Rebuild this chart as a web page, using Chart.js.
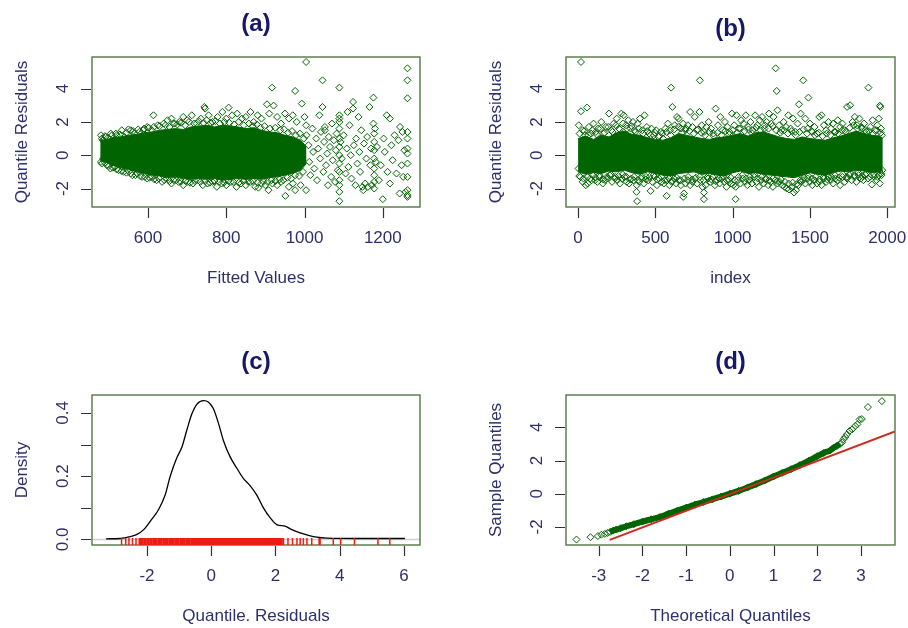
<!DOCTYPE html>
<html>
<head>
<meta charset="utf-8">
<script src="https://cdn.jsdelivr.net/npm/chart.js@4.4.1/dist/chart.umd.min.js"></script>
<style>
  body { margin: 0; background: #fff; width: 908px; height: 628px; position: relative; overflow: hidden; }
  canvas { position: absolute; }
</style>
</head>
<body>
<canvas id="panelA" width="454" height="314" style="left:0;top:0"></canvas>
<canvas id="panelB" width="454" height="314" style="left:454px;top:0"></canvas>
<canvas id="panelC" width="454" height="314" style="left:0;top:314px"></canvas>
<canvas id="panelD" width="454" height="314" style="left:454px;top:314px"></canvas>
<script>
// ---- (a) residuals vs fitted values ----
// dense core of the cloud: upper / lower edge along the fitted values
const coreXA  = [478, 490, 510, 530, 550, 570, 590, 610, 630, 650, 670, 690, 710, 730, 750, 770, 790, 810, 830, 850, 870, 890, 910, 930, 950, 970, 990, 1005];
const coreHiA = [0.95, 0.9, 1.05, 1.1, 1.2, 1.25, 1.35, 1.4, 1.5, 1.55, 1.6, 1.55, 1.7, 1.75, 1.8, 1.7, 1.8, 1.75, 1.7, 1.6, 1.65, 1.5, 1.4, 1.35, 1.2, 1.1, 0.9, 0.5];
const coreLoA = [-0.35, -0.4, -0.6, -0.75, -0.85, -1.0, -1.1, -1.2, -1.25, -1.35, -1.3, -1.4, -1.45, -1.4, -1.45, -1.4, -1.5, -1.45, -1.4, -1.45, -1.4, -1.45, -1.35, -1.3, -1.2, -1.1, -0.9, -0.5];
// [fitted, quantile residual]
const pointsA = [
  [480,1.2],[485,0.9],[492,1.1],[505,1.3],[512,0.9],[520,1.2],[533,1.5],[540,1.1],[550,1.55],[556,1.5],
  [565,1.3],[578,1.4],[590,1.6],[598,1.7],[610,1.5],[614,2.4],[625,1.8],[640,1.9],[650,2.1],[660,2.2],
  [668,1.9],[680,2.0],[690,2.3],[700,2.1],[712,2.4],[724,1.9],[735,2.2],[744,2.9],[746,2.8],[755,2.4],
  [765,2.0],[778,2.3],[790,2.6],[800,2.2],[806,2.86],[815,2.4],[828,2.5],[840,2.2],[850,2.3],[862,2.6],
  [870,2.0],[880,2.4],[890,2.2],[904,3.06],[910,2.5],[921,2.98],[930,2.3],[940,1.9],[950,2.5],[960,2.2],
  [970,2.4],[980,2.0],[993,3.1],[1000,2.3],[1004,1.8],[917,4.06],[976,3.86],[1004,5.6],
  [482,1.0],[490,1.15],[498,1.05],[508,1.2],[518,1.3],[528,1.25],[545,1.35],[562,1.45],[575,1.55],[588,1.5],
  [602,1.65],[615,1.7],[630,1.75],[645,1.8],[655,1.7],[665,1.9],[675,1.85],[685,1.95],[695,1.8],[705,2.0],
  [718,1.9],[730,2.05],[742,1.95],[750,2.1],[760,1.95],[772,2.05],[784,1.9],[795,2.0],[808,1.95],[820,1.85],
  [832,2.0],[845,1.8],[858,1.9],[868,1.75],[878,1.85],[888,1.65],[898,1.75],[912,1.6],[925,1.65],[938,1.5],
  [948,1.55],[958,1.35],[968,1.45],[978,1.2],[988,1.3],[998,1.0],
  [480,-0.4],[486,-0.2],[495,-0.6],[504,-0.8],[515,-0.7],[525,-0.9],[538,-1.0],[548,-0.9],[560,-1.2],[572,-1.1],
  [585,-1.3],[598,-1.4],[610,-1.3],[622,-1.5],[636,-1.6],[648,-1.4],[660,-1.7],[672,-1.5],[678,-1.6],[690,-1.8],
  [702,-1.6],[715,-1.7],[728,-1.5],[740,-1.8],[752,-1.7],[765,-1.6],[776,-1.9],[788,-1.7],[800,-1.8],[812,-1.6],
  [826,-1.9],[838,-1.7],[850,-1.8],[862,-1.6],[874,-1.9],[882,-1.95],[890,-1.7],[900,-1.8],[908,-2.1],[918,-1.7],
  [930,-1.8],[940,-1.6],[951,-2.44],[960,-1.9],[970,-1.7],[976,-2.1],[990,-1.8],[1004,-2.1],
  [482,-0.5],[490,-0.45],[500,-0.65],[510,-0.75],[520,-0.85],[532,-0.95],[545,-1.05],[556,-1.1],[568,-1.2],[580,-1.25],
  [592,-1.3],[604,-1.35],[616,-1.45],[628,-1.4],[642,-1.5],[655,-1.55],[666,-1.5],[684,-1.6],[696,-1.55],[708,-1.65],
  [720,-1.55],[734,-1.6],[746,-1.55],[758,-1.65],[770,-1.55],[782,-1.6],[794,-1.65],[806,-1.55],[818,-1.6],[832,-1.65],
  [844,-1.55],[856,-1.6],[868,-1.55],[880,-1.65],[894,-1.55],[906,-1.6],[915,-1.5],[926,-1.55],[936,-1.45],[946,-1.5],
  [956,-1.35],[966,-1.4],[976,-1.2],[986,-1.25],[996,-1.0],
  [1005,1.2],[1010,0.6],[1012,-0.4],[1015,-1.2],[1020,1.6],[1022,0.2],[1025,-0.8],[1030,1.0],[1032,-1.5],[1035,0.4],
  [1038,2.4],[1040,-0.2],[1042,1.4],[1046,2.9],[1046,4.5],[1048,-1.0],[1050,0.8],[1052,1.7],[1052,1.5],[1055,-0.6],
  [1058,0.1],[1060,-1.8],[1062,1.1],[1065,0.5],[1068,-1.3],[1070,1.9],[1072,-0.3],[1075,0.9],[1078,-1.6],[1080,0.3],
  [1082,1.3],[1085,-0.9],[1089,4.06],[1089,-2.76],[1089,-2.2],[1089,2.4],[1089,2.2],[1089,2.0],[1089,1.6],[1089,1.0],
  [1089,0.5],[1089,0.0],[1089,-0.5],[1089,-1.0],[1089,-1.5],[1089,-1.8],[1092,0.8],[1095,-0.2],[1100,1.2],[1105,-1.1],
  [1108,0.4],[1110,2.6],[1112,-0.7],[1115,1.8],[1118,0.0],[1120,-1.4],[1124,3.2],[1124,2.8],[1126,0.6],[1130,-1.8],
  [1132,1.0],[1135,-0.5],[1138,2.3],[1140,0.2],[1142,-1.0],[1145,1.5],[1148,-1.9],[1150,-2.1],[1152,0.7],[1155,-1.7],
  [1158,-0.2],[1160,1.1],[1162,-1.9],[1166,2.9],[1168,-0.6],[1170,0.4],[1172,-1.8],[1176,3.46],[1176,1.9],[1178,1.3],
  [1178,0.8],[1178,0.3],[1178,-0.2],[1178,-0.8],[1178,-1.2],[1178,-1.6],[1178,-2.0],[1180,1.6],[1182,-0.4],[1185,0.5],
  [1190,-1.5],[1195,-0.6],[1200,-2.64],[1202,1.0],[1205,0.2],[1210,2.4],[1212,-1.0],[1218,2.2],[1218,-1.7],[1222,0.6],
  [1225,-0.3],[1230,1.2],[1235,-1.1],[1240,0.9],[1243,-2.3],[1244,1.7],[1248,-0.6],[1250,1.4],[1252,-1.3],[1255,0.3],
  [1258,-2.2],[1263,5.22],[1263,4.5],[1263,3.42],[1263,1.4],[1263,1.0],[1263,0.4],[1263,0.1],[1263,-0.5],[1263,-1.3],
  [1263,-2.1],[1263,-2.5],[1263,-2.4]
];
const xTicksA = [600, 800, 1000, 1200];

// ---- (b) residuals vs index ----
const coreXB  = [0, 50, 100, 150, 200, 250, 300, 350, 400, 450, 500, 550, 600, 650, 700, 750, 800, 850, 900, 950, 1000,
                 1050, 1100, 1150, 1200, 1250, 1300, 1350, 1400, 1450, 1500, 1550, 1600, 1650, 1700, 1750, 1800, 1850, 1900, 1950, 1971];
const coreHiB = [1.0, 1.15, 0.95, 1.2, 1.1, 1.35, 1.45, 1.25, 1.2, 1.05, 0.95, 0.9, 1.05, 1.3, 1.2, 1.1, 1.0, 0.95, 1.05, 1.1, 1.2,
                 1.3, 1.15, 1.35, 1.4, 1.25, 1.1, 1.0, 0.95, 1.1, 1.0, 0.95, 0.9, 1.05, 1.15, 1.3, 1.45, 1.3, 1.2, 1.15, 1.0];
const coreLoB = [-1.0, -1.15, -1.05, -1.1, -0.95, -1.0, -0.9, -1.05, -1.15, -1.0, -1.1, -1.2, -1.25, -1.1, -1.05, -1.0, -1.15, -1.1, -1.2, -1.25, -1.05,
                 -0.95, -1.1, -1.05, -1.15, -1.2, -1.25, -1.3, -1.35, -1.2, -1.05, -1.15, -1.2, -1.05, -0.95, -1.0, -0.9, -0.95, -1.05, -1.0, -0.9];
// [index, quantile residual]
const pointsB = [
  [5,1.8],[19,5.6],[19,2.64],[30,1.5],[45,1.2],[58,2.86],[70,1.7],[85,1.3],[100,1.9],[115,1.4],
  [130,1.6],[150,2.0],[165,1.3],[180,1.7],[200,2.5],[215,1.5],[230,1.9],[250,2.2],[265,1.6],[280,2.5],
  [295,2.4],[310,1.8],[325,2.1],[340,1.6],[355,2.0],[370,1.4],[385,1.9],[400,2.2],[415,1.5],[430,2.4],
  [445,1.7],[460,1.3],[475,1.6],[490,1.2],[505,1.5],[520,1.1],[535,1.4],[550,1.0],[565,1.6],[580,1.9],
  [595,1.5],[602,4.06],[610,2.9],[625,1.8],[640,2.3],[650,2.2],[665,1.6],[680,1.9],[695,1.5],[710,1.8],
  [725,2.6],[740,1.7],[755,2.3],[770,1.5],[788,4.5],[785,2.6],[800,1.8],[815,1.4],[830,1.7],[845,2.0],
  [860,1.6],[875,1.3],[890,2.8],[905,1.8],[920,2.3],[935,1.5],[950,2.0],[965,1.7],[980,1.4],[995,2.5],
  [1010,1.8],[1025,2.4],[1040,1.6],[1055,2.1],[1070,1.9],[1085,2.4],[1100,1.7],[1115,2.0],[1130,1.5],[1145,2.4],
  [1160,1.8],[1175,2.1],[1190,2.3],[1205,1.6],[1220,2.0],[1235,2.5],[1250,1.9],[1265,2.3],[1278,5.22],[1285,3.86],
  [1290,2.7],[1300,1.8],[1315,1.5],[1330,2.0],[1345,1.7],[1360,2.4],[1375,1.6],[1390,2.2],[1405,1.4],[1420,1.9],
  [1429,3.06],[1440,2.5],[1457,4.5],[1470,2.2],[1490,3.46],[1485,1.6],[1500,1.9],[1515,1.4],[1530,1.7],[1545,1.3],
  [1560,2.3],[1575,2.4],[1590,1.8],[1605,1.5],[1620,2.0],[1635,1.6],[1650,1.9],[1665,1.4],[1680,2.1],[1695,1.7],
  [1710,1.9],[1725,1.5],[1740,2.9],[1760,3.0],[1775,2.0],[1790,2.3],[1805,1.8],[1820,2.2],[1835,1.6],[1850,1.9],
  [1865,1.4],[1878,4.06],[1890,1.7],[1905,2.1],[1920,1.5],[1935,1.8],[1945,2.2],[1952,2.98],[1955,2.9],[1960,1.6],
  [1965,1.2],
  [10,1.3],[40,1.45],[68,1.2],[92,1.5],[120,1.25],[145,1.6],[172,1.35],[195,1.7],[222,1.4],[245,1.8],
  [270,1.55],[290,1.9],[318,1.6],[345,1.75],[365,1.5],[392,1.6],[420,1.3],[448,1.45],[470,1.2],[498,1.35],
  [525,1.15],[545,1.3],[572,1.4],[600,1.2],[622,1.55],[648,1.7],[672,1.35],[698,1.6],[720,1.45],[748,1.3],
  [775,1.55],[798,1.35],[822,1.2],[850,1.4],[878,1.15],[902,1.35],[928,1.2],[952,1.45],[978,1.25],[1002,1.5],
  [1028,1.35],[1050,1.6],[1078,1.45],[1102,1.55],[1128,1.3],[1152,1.65],[1180,1.5],[1208,1.8],[1232,1.6],[1258,1.75],
  [1282,1.5],[1308,1.35],[1332,1.5],[1358,1.3],[1382,1.45],[1408,1.2],[1432,1.4],[1458,1.55],[1482,1.3],[1508,1.45],
  [1532,1.2],[1558,1.35],[1582,1.15],[1608,1.3],[1632,1.2],[1658,1.4],[1682,1.3],[1708,1.5],[1732,1.4],[1758,1.65],
  [1782,1.8],[1808,1.6],[1832,1.7],[1858,1.5],[1882,1.45],[1908,1.3],[1932,1.5],[1958,1.35],
  [3,-0.8],[15,-1.3],[30,-1.6],[50,-1.8],[62,-1.7],[80,-1.4],[95,-1.2],[110,-1.5],[125,-1.6],[140,-1.3],
  [160,-1.7],[175,-1.5],[190,-1.4],[205,-1.2],[220,-1.6],[240,-1.3],[255,-1.5],[270,-1.7],[285,-1.4],[300,-1.3],
  [315,-1.6],[330,-1.7],[345,-1.4],[360,-1.5],[378,-2.2],[382,-2.76],[380,-1.8],[395,-1.6],[410,-1.4],[425,-1.7],
  [440,-1.3],[455,-1.5],[469,-2.14],[480,-1.6],[495,-1.3],[510,-1.8],[525,-1.4],[540,-1.6],[555,-1.7],[573,-2.44],
  [575,-1.5],[590,-1.8],[605,-1.6],[620,-1.4],[635,-1.7],[650,-1.5],[665,-1.8],[680,-2.5],[685,-2.3],[695,-1.7],
  [710,-1.5],[725,-1.8],[740,-1.6],[755,-1.4],[770,-1.7],[790,-1.5],[805,-1.9],[814,-2.64],[814,-2.24],[825,-1.8],
  [840,-1.4],[855,-1.6],[870,-1.3],[885,-1.8],[900,-1.5],[915,-1.7],[930,-1.4],[945,-1.6],[960,-1.9],[975,-1.5],
  [990,-1.7],[1005,-1.8],[1019,-2.64],[1020,-1.9],[1035,-1.5],[1050,-1.7],[1065,-1.4],[1080,-1.6],[1095,-1.8],[1110,-1.5],
  [1125,-1.7],[1140,-1.3],[1155,-1.6],[1170,-1.9],[1185,-1.5],[1200,-1.7],[1215,-1.4],[1230,-1.8],[1245,-1.6],[1260,-1.9],
  [1275,-1.5],[1290,-1.7],[1305,-1.6],[1320,-1.8],[1335,-1.9],[1350,-2.0],[1365,-2.06],[1380,-1.9],[1397,-2.24],[1410,-2.1],
  [1425,-1.8],[1440,-1.6],[1455,-1.5],[1470,-1.7],[1485,-1.4],[1500,-1.6],[1515,-1.8],[1530,-1.5],[1545,-1.7],[1560,-1.6],
  [1575,-1.8],[1590,-1.4],[1605,-1.6],[1620,-1.3],[1635,-1.5],[1650,-1.7],[1665,-1.4],[1680,-1.5],[1695,-1.8],[1710,-1.3],
  [1725,-1.6],[1740,-1.4],[1755,-1.2],[1770,-1.5],[1785,-1.3],[1800,-1.6],[1815,-1.2],[1830,-1.4],[1845,-1.5],[1860,-1.2],
  [1875,-1.4],[1900,-1.76],[1915,-1.3],[1930,-1.5],[1945,-1.2],[1952,-1.7],[1960,-1.1],[1968,-0.9],
  [8,-1.25],[35,-1.4],[60,-1.3],[88,-1.5],[112,-1.35],[138,-1.2],[162,-1.45],[188,-1.3],[212,-1.15],[238,-1.4],
  [262,-1.25],[288,-1.15],[312,-1.3],[338,-1.45],[362,-1.3],[388,-1.5],[412,-1.3],[438,-1.45],[462,-1.3],[488,-1.2],
  [512,-1.45],[538,-1.3],[562,-1.5],[588,-1.4],[612,-1.55],[638,-1.35],[662,-1.5],[688,-1.4],[712,-1.3],[738,-1.45],
  [762,-1.35],[788,-1.3],[812,-1.5],[838,-1.3],[862,-1.45],[888,-1.55],[912,-1.4],[938,-1.3],[962,-1.5],[988,-1.35],
  [1012,-1.5],[1038,-1.3],[1062,-1.2],[1088,-1.4],[1112,-1.3],[1138,-1.15],[1162,-1.4],[1188,-1.3],[1212,-1.45],[1238,-1.5],
  [1262,-1.4],[1288,-1.55],[1312,-1.45],[1338,-1.6],[1362,-1.7],[1388,-1.65],[1412,-1.75],[1438,-1.5],[1462,-1.35],[1488,-1.25],
  [1512,-1.4],[1538,-1.3],[1562,-1.45],[1588,-1.3],[1612,-1.45],[1638,-1.3],[1662,-1.2],[1688,-1.35],[1712,-1.15],[1738,-1.3],
  [1762,-1.1],[1788,-1.2],[1812,-1.05],[1838,-1.25],[1862,-1.1],[1888,-1.3],[1912,-1.15],[1938,-1.3],[1962,-1.2]
];
const xTicksB = [0, 500, 1000, 1500, 2000];
const yTicksRes = [-2, 0, 2, 4];

// ---- (c) kernel density of the residuals ----
const densX = [-3.27, -2.83, -2.52, -2.31, -2.1, -1.9, -1.64, -1.43, -1.28, -1.07, -0.91, -0.76, -0.6, -0.44, -0.24, -0.08,
               0.07, 0.23, 0.38, 0.59, 0.8, 1.0, 1.21, 1.42, 1.63, 1.84, 2.04, 2.3, 2.51, 2.77, 3.03, 3.29, 3.6, 4.5, 6.03];
const densY = [0.002, 0.003, 0.009, 0.016, 0.031, 0.057, 0.094, 0.141, 0.198, 0.258, 0.292, 0.345, 0.397, 0.428, 0.439, 0.434,
               0.413, 0.366, 0.313, 0.261, 0.225, 0.193, 0.17, 0.14, 0.099, 0.068, 0.047, 0.042, 0.031, 0.021, 0.013, 0.007, 0.004, 0.003, 0.003];
const rugValues = [
  -2.79, -2.66, -2.56, -2.45, -2.34,
  -2.24, -2.2, -2.17, -2.13, -2.08, -2.05, -2.0, -1.97, -1.93, -1.88, -1.86, -1.81, -1.77, -1.74, -1.7, -1.65, -1.62,
  -1.58, -1.55, -1.5, -1.47, -1.43, -1.39, -1.36, -1.31, -1.28, -1.24, -1.2, -1.17, -1.12, -1.09, -1.05, -1.02, -0.97,
  -0.94, -0.9, -0.86, -0.83, -0.78, -0.75, -0.71, -0.68, -0.63, -0.6, -0.56, -0.52, -0.49, -0.45, -0.41, -0.38, -0.34,
  -0.3, -0.27, -0.23, -0.19, -0.16, -0.12, -0.08, -0.05, -0.01, 0.02, 0.06, 0.1, 0.13, 0.17, 0.21, 0.24, 0.28, 0.31,
  0.35, 0.39, 0.42, 0.46, 0.5, 0.53, 0.57, 0.61, 0.64, 0.68, 0.71, 0.75, 0.79, 0.82, 0.86, 0.9, 0.93, 0.97, 1.01,
  1.04, 1.08, 1.12, 1.15, 1.19, 1.22, 1.26, 1.3, 1.33, 1.37, 1.41, 1.44, 1.48, 1.52, 1.55, 1.59, 1.62, 1.66, 1.7,
  1.73, 1.77, 1.81, 1.84, 1.88, 1.91, 1.95, 1.99, 2.02, 2.06, 2.1, 2.13, 2.17, 2.2,
  2.25, 2.39, 2.53, 2.67, 2.77, 2.87, 2.98, 3.13, 3.36, 3.39, 3.8, 4.03, 4.46, 5.19, 5.56
];
const xTicksC = [-2, 0, 2, 4, 6];
const yTicksC = [0, 0.1, 0.2, 0.3, 0.4];
const yLabelsC = ['0.0', '', '0.2', '', '0.4'];

// ---- (d) normal Q-Q ----
// [theoretical quantile, sample quantile]
const qqPoints = [
  [-3.51,-2.76],[-3.19,-2.62],[-3.02,-2.55],[-2.94,-2.47],[-2.86,-2.42],[-2.8,-2.36],[-2.74,-2.3],[-2.67,-2.22],
  [-2.6,-2.16],[-2.5,-2.08],[-2.37,-1.96],[-2.2,-1.84],[-2.0,-1.68],[-1.8,-1.54],[-1.6,-1.4],[-1.4,-1.2],
  [-1.2,-1.02],[-1.0,-0.84],[-0.8,-0.66],[-0.6,-0.5],[-0.4,-0.34],[-0.2,-0.17],[0,0.0],[0.2,0.17],
  [0.4,0.37],[0.6,0.58],[0.8,0.8],[1.0,1.04],[1.2,1.26],[1.4,1.48],[1.6,1.72],[1.8,1.98],
  [2.0,2.26],[2.15,2.46],[2.29,2.6],[2.38,2.78],[2.45,2.88],[2.52,3.0],[2.57,3.1],[2.6,3.28],
  [2.64,3.42],[2.68,3.58],[2.74,3.78],[2.8,3.88],[2.87,4.08],[2.92,4.18],[2.97,4.48],[3.02,4.5],
  [3.16,5.22],[3.48,5.58]
];
const qqLineX = [-2.75, 3.78];
const qqLineY = [-2.78, 3.75];
const xTicksD = [-3, -2, -1, 0, 1, 2, 3];

const GREEN = '#006400';
const FONT = '"Liberation Sans", Arial, Helvetica, sans-serif';

// R-style frame: outward ticks, rotated y labels, box and titles
const rFrame = {
  id: 'rFrame',
  afterDraw(chart, args, o) {
    const { ctx, chartArea: a, scales: { x, y } } = chart;
    ctx.save();
    ctx.strokeStyle = '#333';
    ctx.lineWidth = 1.2;
    ctx.beginPath();
    o.xTicks.forEach(v => {
      const px = Math.round(x.getPixelForValue(v)) + 0.5;
      ctx.moveTo(px, a.bottom + 1);
      ctx.lineTo(px, a.bottom + 11);
    });
    o.yTicks.forEach(v => {
      const py = Math.round(y.getPixelForValue(v)) + 0.5;
      ctx.moveTo(a.left - 1, py);
      ctx.lineTo(a.left - 11, py);
    });
    ctx.stroke();

    ctx.fillStyle = '#2f2f6b';
    ctx.font = '17px ' + FONT;
    ctx.textAlign = 'center';
    ctx.textBaseline = 'middle';
    o.xTicks.forEach((v, i) => {
      const lab = o.xLabels ? o.xLabels[i] : String(v);
      ctx.fillText(lab, x.getPixelForValue(v), a.bottom + 31);
    });
    o.yTicks.forEach((v, i) => {
      const lab = o.yLabels ? o.yLabels[i] : String(v);
      if (!lab) return;
      ctx.save();
      ctx.translate(a.left - 29, y.getPixelForValue(v));
      ctx.rotate(-Math.PI / 2);
      ctx.fillText(lab, 0, 0);
      ctx.restore();
    });
    ctx.fillText(o.xTitle, (a.left + a.right) / 2, a.bottom + 71);
    ctx.save();
    ctx.translate(a.left - 70, (a.top + a.bottom) / 2);
    ctx.rotate(-Math.PI / 2);
    ctx.fillText(o.yTitle, 0, 0);
    ctx.restore();

    ctx.fillStyle = '#17176a';
    ctx.font = 'bold 24px ' + FONT;
    ctx.fillText(o.title, (a.left + a.right) / 2, a.top - o.titleGap);

    ctx.strokeStyle = '#5f7f50';
    ctx.lineWidth = 1.5;
    ctx.strokeRect(a.left, a.top, a.width, a.height);
    ctx.restore();
  }
};

// light zero line under the density curve
const zeroLine = {
  id: 'zeroLine',
  beforeDatasetsDraw(chart) {
    const { ctx, chartArea: a, scales: { y } } = chart;
    const py = Math.round(y.getPixelForValue(0)) + 0.5;
    ctx.save();
    ctx.strokeStyle = '#cfcfcf';
    ctx.lineWidth = 1.5;
    ctx.beginPath();
    ctx.moveTo(a.left, py);
    ctx.lineTo(a.right, py);
    ctx.stroke();
    ctx.restore();
  }
};

// rug of the residuals along the bottom edge
const rug = {
  id: 'rug',
  afterDraw(chart, args, o) {
    const { ctx, chartArea: a, scales: { x } } = chart;
    ctx.save();
    ctx.strokeStyle = '#ee1c0e';
    ctx.lineWidth = 1.5;
    ctx.beginPath();
    o.values.forEach(v => {
      const px = x.getPixelForValue(v);
      ctx.moveTo(px, a.bottom);
      ctx.lineTo(px, a.bottom - 7);
    });
    ctx.stroke();
    ctx.restore();
  }
};

function options(pad, xr, yr, frame, extra) {
  return {
    responsive: false,
    animation: false,
    devicePixelRatio: 1,
    layout: { padding: pad },
    plugins: Object.assign({ legend: { display: false }, tooltip: { enabled: false }, rFrame: frame }, extra || {}),
    scales: {
      x: { type: 'linear', display: false, min: xr[0], max: xr[1] },
      y: { type: 'linear', display: false, min: yr[0], max: yr[1] }
    }
  };
}

const toXY = pairs => pairs.map(p => ({ x: p[0], y: p[1] }));
const zip = (xs, ys) => xs.map((v, i) => ({ x: v, y: ys[i] }));

function coreBand(xs, hi, lo) {
  return [
    { type: 'line', data: zip(xs, hi), borderColor: GREEN, borderWidth: 1, pointRadius: 0, tension: 0, fill: '+1', backgroundColor: GREEN },
    { type: 'line', data: zip(xs, lo), borderColor: GREEN, borderWidth: 1, pointRadius: 0, tension: 0, fill: false }
  ];
}

function diamonds(pairs) {
  return {
    type: 'scatter', data: toXY(pairs), pointStyle: 'rectRot', pointRadius: 3.5,
    borderColor: GREEN, borderWidth: 1, backgroundColor: 'rgba(0,0,0,0)', clip: false
  };
}

new Chart(document.getElementById('panelA'), {
  type: 'scatter',
  data: { datasets: [diamonds(pointsA)].concat(coreBand(coreXA, coreHiA, coreLoA)) },
  options: options({ left: 92, top: 57, right: 34, bottom: 107 }, [457, 1295], [-3.11, 5.9],
    { title: '(a)', titleGap: 33, xTitle: 'Fitted Values', yTitle: 'Quantile Residuals', xTicks: xTicksA, yTicks: yTicksRes }),
  plugins: [rFrame]
});

new Chart(document.getElementById('panelB'), {
  type: 'scatter',
  data: { datasets: [diamonds(pointsB)].concat(coreBand(coreXB, coreHiB, coreLoB)) },
  options: options({ left: 112, top: 57, right: 13, bottom: 107 }, [-78, 2050], [-3.11, 5.9],
    { title: '(b)', titleGap: 28, xTitle: 'index', yTitle: 'Quantile Residuals', xTicks: xTicksB, yTicks: yTicksRes }),
  plugins: [rFrame]
});

new Chart(document.getElementById('panelC'), {
  type: 'scatter',
  data: {
    datasets: [{
      type: 'line', data: zip(densX, densY), borderColor: '#000', borderWidth: 1.3,
      pointRadius: 0, cubicInterpolationMode: 'monotone', fill: false
    }]
  },
  options: options({ left: 92, top: 81, right: 34, bottom: 83 }, [-3.71, 6.5], [-0.0176, 0.4566],
    { title: '(c)', titleGap: 33, xTitle: 'Quantile. Residuals', yTitle: 'Density',
      xTicks: xTicksC, yTicks: yTicksC, yLabels: yLabelsC },
    { rug: { values: rugValues } }),
  plugins: [zeroLine, rFrame, rug]
});

const qqBody = qqPoints.filter(p => p[0] > -2.8 && p[0] < 2.55);
new Chart(document.getElementById('panelD'), {
  type: 'scatter',
  data: {
    datasets: [
      { type: 'line', data: zip(qqLineX, qqLineY), borderColor: '#d0281c', borderWidth: 2, pointRadius: 0, fill: false },
      { type: 'line', data: toXY(qqBody), borderColor: GREEN, borderWidth: 6, pointRadius: 0, tension: 0.3, fill: false },
      diamonds(qqPoints)
    ]
  },
  options: options({ left: 112, top: 81, right: 13, bottom: 83 }, [-3.75, 3.78], [-3.09, 5.95],
    { title: '(d)', titleGap: 33, xTitle: 'Theoretical Quantiles', yTitle: 'Sample Quantiles', xTicks: xTicksD, yTicks: yTicksRes }),
  plugins: [rFrame]
});
</script>
</body>
</html>
